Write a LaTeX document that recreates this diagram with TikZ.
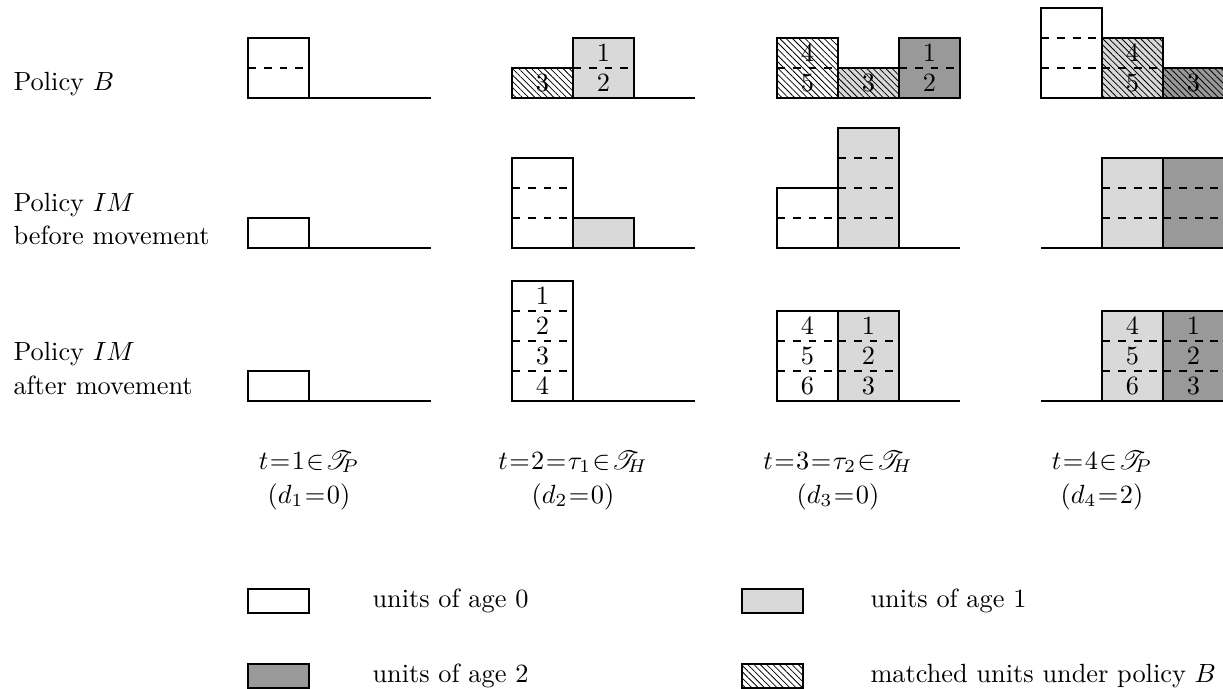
\documentclass[tikz,border=0pt]{standalone}
\usepackage{mathrsfs}
\usetikzlibrary{patterns.meta}
\definecolor{agezero}{gray}{1}
\definecolor{ageone}{gray}{0.85}
\definecolor{agetwo}{gray}{0.6}
\tikzset{
  edge/.style={line width=0.5pt},
  cellwhite/.style={edge, draw=black, fill=agezero},
  celllight/.style={edge, draw=black, fill=ageone},
  celldark/.style={edge, draw=black, fill=agetwo},
  hatched/.style={postaction={pattern={Lines[angle=-45,distance=1.7pt,line width=0.3pt]}}},
  dashline/.style={line width=0.45pt, dashed},
  baseln/.style={line width=0.6pt},
  num/.style={inner sep=0pt},
  rowlabel/.style={anchor=base west, inner sep=0pt},
  timelabel/.style={anchor=base, inner sep=0pt, execute at begin node={\thickmuskip=1mu plus 1mu}},
  legtext/.style={anchor=west, inner sep=0pt}
}
% #1 x, #2 base y, #3 number of units, #4 style
\newcommand{\cellstack}[4]{%
  \path[#4] (#1,#2) rectangle ++(61,-30*#3);
  \ifnum#3>1
    \foreach \k in {2,...,#3}{\draw[dashline] (#1,#2-30*\k+30) -- ++(61,0);}
  \fi
}
\begin{document}
\begin{tikzpicture}[x=0.01335cm, y=-0.01335cm]
\useasboundingbox (0,0) rectangle (1223,689);

% ---------- row labels ----------
\node[rowlabel] (lB) at (13,90.5) {Policy $B$};
\node[rowlabel] (lIMa) at (13,211) {Policy $IM$};
\node[rowlabel] (lIMa2) at (13,244) {before movement};
\node[rowlabel] (lIMb) at (13,360) {Policy $IM$};
\node[rowlabel] (lIMb2) at (13,394) {after movement};

% ---------- baselines ----------
\foreach \gx in {248,512,777,1041}{
  \foreach \by in {98,248,401}{
    \draw[baseln] (\gx,\by) -- ++(183,0);
  }
}

% ---------- Row: Policy B (base 98) ----------
\cellstack{248}{98}{2}{cellwhite}
\cellstack{512}{98}{1}{cellwhite,hatched}
\node[num] (b2a) at (542.5,83) {$3$};
\cellstack{573}{98}{2}{celllight}
\node[num] (b2b) at (603.5,53) {$1$};
\node[num] (b2c) at (603.5,83) {$2$};
\cellstack{777}{98}{2}{cellwhite,hatched}
\node[num] (b3a) at (807.5,53) {$4$};
\node[num] (b3b) at (807.5,83) {$5$};
\cellstack{838}{98}{1}{celllight,hatched}
\node[num] (b3c) at (868.5,83) {$3$};
\cellstack{899}{98}{2}{celldark}
\node[num] (b3d) at (929.5,53) {$1$};
\node[num] (b3e) at (929.5,83) {$2$};
\cellstack{1041}{98}{3}{cellwhite}
\cellstack{1102}{98}{2}{celllight,hatched}
\node[num] (b4a) at (1132.5,53) {$4$};
\node[num] (b4b) at (1132.5,83) {$5$};
\cellstack{1163}{98}{1}{celldark,hatched}
\node[num] (b4c) at (1193.5,83) {$3$};

% ---------- Row: IM before movement (base 248) ----------
\cellstack{248}{248}{1}{cellwhite}
\cellstack{512}{248}{3}{cellwhite}
\cellstack{573}{248}{1}{celllight}
\cellstack{777}{248}{2}{cellwhite}
\cellstack{838}{248}{4}{celllight}
\cellstack{1102}{248}{3}{celllight}
\cellstack{1163}{248}{3}{celldark}

% ---------- Row: IM after movement (base 401) ----------
\cellstack{248}{401}{1}{cellwhite}
\cellstack{512}{401}{4}{cellwhite}
\node[num] (a2a) at (542.5,296) {$1$};
\node[num] (a2b) at (542.5,326) {$2$};
\node[num] (a2c) at (542.5,356) {$3$};
\node[num] (a2d) at (542.5,386) {$4$};
\cellstack{777}{401}{3}{cellwhite}
\node[num] (a3a) at (807.5,326) {$4$};
\node[num] (a3b) at (807.5,356) {$5$};
\node[num] (a3c) at (807.5,386) {$6$};
\cellstack{838}{401}{3}{celllight}
\node[num] (a3d) at (868.5,326) {$1$};
\node[num] (a3e) at (868.5,356) {$2$};
\node[num] (a3f) at (868.5,386) {$3$};
\cellstack{1102}{401}{3}{celllight}
\node[num] (a4a) at (1132.5,326) {$4$};
\node[num] (a4b) at (1132.5,356) {$5$};
\node[num] (a4c) at (1132.5,386) {$6$};
\cellstack{1163}{401}{3}{celldark}
\node[num] (a4d) at (1193.5,326) {$1$};
\node[num] (a4e) at (1193.5,356) {$2$};
\node[num] (a4f) at (1193.5,386) {$3$};

% ---------- time labels ----------
\node[timelabel] (t1) at (309,469) {$t=1\in\mathscr{T}_{\!P}$};
\node[timelabel] (d1) at (309,503) {$(d_1=0)$};
\node[timelabel] (t2) at (573,469) {$t=2=\tau_1\in\mathscr{T}_{\!H}$};
\node[timelabel] (d2) at (573,503) {$(d_2=0)$};
\node[timelabel] (t3) at (838,469) {$t=3=\tau_2\in\mathscr{T}_{\!H}$};
\node[timelabel] (d3) at (838,503) {$(d_3=0)$};
\node[timelabel] (t4) at (1102,469) {$t=4\in\mathscr{T}_{\!P}$};
\node[timelabel] (d4) at (1102,503) {$(d_4=2)$};

% ---------- legend ----------
\path[cellwhite] (248,589) rectangle (309,613);
\node[legtext] (g0) at (372,601) {units of age 0};
\path[celllight] (742,589) rectangle (803,613);
\node[legtext] (g1) at (870,601) {units of age 1};
\path[celldark] (248,664) rectangle (309,688);
\node[legtext] (g2) at (372,676) {units of age 2};
\path[cellwhite,hatched] (742,664) rectangle (803,688);
\node[legtext] (g3) at (870,676) {matched units under policy $B$};
\end{tikzpicture}
\end{document}
